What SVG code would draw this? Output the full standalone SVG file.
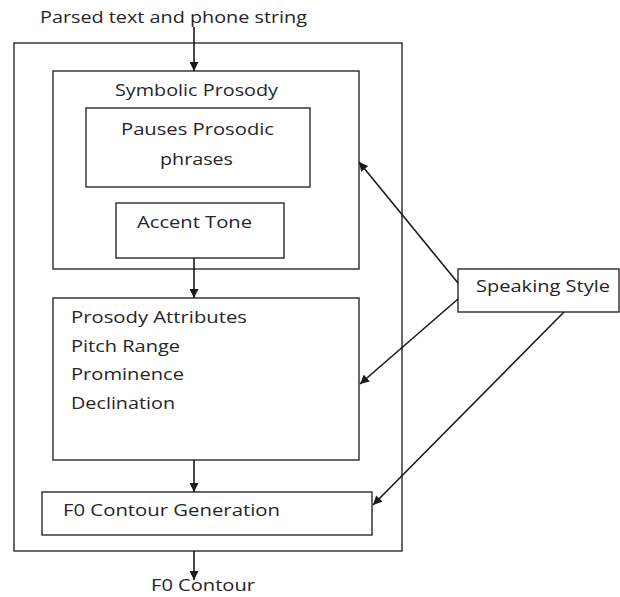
<svg xmlns="http://www.w3.org/2000/svg" width="620" height="597" viewBox="0 0 620 597">
<defs>
<marker id="ah" viewBox="0 0 10 10" refX="10" refY="5" markerUnits="userSpaceOnUse" markerWidth="10" markerHeight="9" orient="auto">
<path d="M0,0 L10,5 L0,10 Z" fill="#1a1a1a"/>
</marker>
<style>
.box{fill:none;stroke:#2a2a2a;stroke-width:1.4}
.ln{fill:none;stroke:#1a1a1a;stroke-width:1.6;marker-end:url(#ah)}
text{font-family:"Open Sans","Liberation Sans",sans-serif;font-size:17px;fill:#262626}
</style>
</defs>
<rect width="620" height="597" fill="#fff"/>
<g id="outer"><rect class="box" x="14" y="43" width="388" height="508"/></g>
<g id="symbolic-prosody">
<rect class="box" x="53" y="71" width="306" height="198"/>
<text x="115" y="96" textLength="163" lengthAdjust="spacingAndGlyphs">Symbolic Prosody</text>
</g>
<g id="pauses">
<rect class="box" x="86" y="108" width="224" height="79"/>
<text x="121" y="135" textLength="153" lengthAdjust="spacingAndGlyphs">Pauses Prosodic</text>
<text x="160" y="165" textLength="73" lengthAdjust="spacingAndGlyphs">phrases</text>
</g>
<g id="accent-tone">
<rect class="box" x="116" y="203" width="168" height="55"/>
<text x="137" y="228" textLength="115" lengthAdjust="spacingAndGlyphs">Accent Tone</text>
</g>
<g id="prosody-attributes">
<rect class="box" x="53" y="298" width="306" height="162"/>
<text x="71" y="323" textLength="176" lengthAdjust="spacingAndGlyphs">Prosody Attributes</text>
<text x="71" y="352" textLength="109" lengthAdjust="spacingAndGlyphs">Pitch Range</text>
<text x="71" y="380" textLength="113" lengthAdjust="spacingAndGlyphs">Prominence</text>
<text x="71" y="409" textLength="104" lengthAdjust="spacingAndGlyphs">Declination</text>
</g>
<g id="f0-generation">
<rect class="box" x="42" y="492" width="330" height="43"/>
<text x="63" y="516" textLength="217" lengthAdjust="spacingAndGlyphs">F0 Contour Generation</text>
</g>
<g id="speaking-style">
<rect class="box" x="458" y="269" width="161" height="43"/>
<text x="476" y="292" textLength="134" lengthAdjust="spacingAndGlyphs">Speaking Style</text>
</g>
<g id="input-label"><text x="40" y="23" textLength="267" lengthAdjust="spacingAndGlyphs">Parsed text and phone string</text></g>
<g id="output-label"><text x="151" y="591" textLength="104" lengthAdjust="spacingAndGlyphs">F0 Contour</text></g>
<g id="connectors">
<line class="ln" x1="194" y1="27" x2="194" y2="71"/>
<line class="ln" x1="194" y1="258" x2="194" y2="298"/>
<line class="ln" x1="194" y1="460" x2="194" y2="492"/>
<line class="ln" x1="194" y1="551" x2="194" y2="580"/>
<line class="ln" x1="458" y1="283" x2="359" y2="162"/>
<line class="ln" x1="458" y1="299" x2="360" y2="384"/>
<line class="ln" x1="564" y1="312" x2="373" y2="505"/>
</g>
</svg>
